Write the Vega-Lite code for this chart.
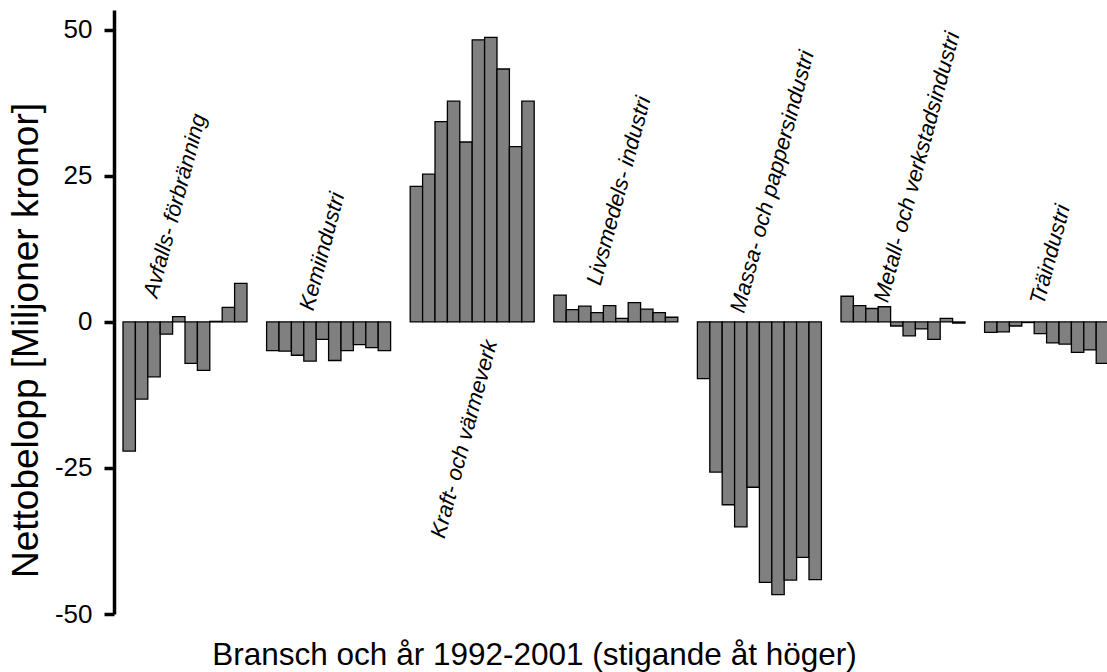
{
  "$schema": "https://vega.github.io/schema/vega-lite/v6.json",
  "width": 993,
  "height": 604,
  "autosize": {"type": "none"},
  "padding": {"left": 114, "top": 10, "right": 0, "bottom": 58},
  "background": "white",
  "config": {"view": {"stroke": null}, "font": "Liberation Sans"},
  "datasets": {
    "bars": [
      {"branch": "Avfalls- förbränning", "year": 1992, "value": -22.1},
      {"branch": "Avfalls- förbränning", "year": 1993, "value": -13.2},
      {"branch": "Avfalls- förbränning", "year": 1994, "value": -9.4},
      {"branch": "Avfalls- förbränning", "year": 1995, "value": -2.1},
      {"branch": "Avfalls- förbränning", "year": 1996, "value": 0.9},
      {"branch": "Avfalls- förbränning", "year": 1997, "value": -7.1},
      {"branch": "Avfalls- förbränning", "year": 1998, "value": -8.3},
      {"branch": "Avfalls- förbränning", "year": 1999, "value": 0.1},
      {"branch": "Avfalls- förbränning", "year": 2000, "value": 2.5},
      {"branch": "Avfalls- förbränning", "year": 2001, "value": 6.6},
      {"branch": "Kemiindustri", "year": 1992, "value": -4.9},
      {"branch": "Kemiindustri", "year": 1993, "value": -5.0},
      {"branch": "Kemiindustri", "year": 1994, "value": -5.7},
      {"branch": "Kemiindustri", "year": 1995, "value": -6.7},
      {"branch": "Kemiindustri", "year": 1996, "value": -3.0},
      {"branch": "Kemiindustri", "year": 1997, "value": -6.6},
      {"branch": "Kemiindustri", "year": 1998, "value": -4.9},
      {"branch": "Kemiindustri", "year": 1999, "value": -3.9},
      {"branch": "Kemiindustri", "year": 2000, "value": -4.4},
      {"branch": "Kemiindustri", "year": 2001, "value": -4.9},
      {"branch": "Kraft- och värmeverk", "year": 1992, "value": 23.2},
      {"branch": "Kraft- och värmeverk", "year": 1993, "value": 25.3},
      {"branch": "Kraft- och värmeverk", "year": 1994, "value": 34.3},
      {"branch": "Kraft- och värmeverk", "year": 1995, "value": 37.8},
      {"branch": "Kraft- och värmeverk", "year": 1996, "value": 30.8},
      {"branch": "Kraft- och värmeverk", "year": 1997, "value": 48.3},
      {"branch": "Kraft- och värmeverk", "year": 1998, "value": 48.7},
      {"branch": "Kraft- och värmeverk", "year": 1999, "value": 43.3},
      {"branch": "Kraft- och värmeverk", "year": 2000, "value": 30.0},
      {"branch": "Kraft- och värmeverk", "year": 2001, "value": 37.8},
      {"branch": "Livsmedels- industri", "year": 1992, "value": 4.6},
      {"branch": "Livsmedels- industri", "year": 1993, "value": 2.1},
      {"branch": "Livsmedels- industri", "year": 1994, "value": 2.7},
      {"branch": "Livsmedels- industri", "year": 1995, "value": 1.6},
      {"branch": "Livsmedels- industri", "year": 1996, "value": 2.8},
      {"branch": "Livsmedels- industri", "year": 1997, "value": 0.6},
      {"branch": "Livsmedels- industri", "year": 1998, "value": 3.3},
      {"branch": "Livsmedels- industri", "year": 1999, "value": 2.2},
      {"branch": "Livsmedels- industri", "year": 2000, "value": 1.6},
      {"branch": "Livsmedels- industri", "year": 2001, "value": 0.8},
      {"branch": "Massa- och pappersindustri", "year": 1992, "value": -9.7},
      {"branch": "Massa- och pappersindustri", "year": 1993, "value": -25.7},
      {"branch": "Massa- och pappersindustri", "year": 1994, "value": -31.3},
      {"branch": "Massa- och pappersindustri", "year": 1995, "value": -35.1},
      {"branch": "Massa- och pappersindustri", "year": 1996, "value": -28.3},
      {"branch": "Massa- och pappersindustri", "year": 1997, "value": -44.6},
      {"branch": "Massa- och pappersindustri", "year": 1998, "value": -46.7},
      {"branch": "Massa- och pappersindustri", "year": 1999, "value": -44.2},
      {"branch": "Massa- och pappersindustri", "year": 2000, "value": -40.3},
      {"branch": "Massa- och pappersindustri", "year": 2001, "value": -44.1},
      {"branch": "Metall- och verkstadsindustri", "year": 1992, "value": 4.4},
      {"branch": "Metall- och verkstadsindustri", "year": 1993, "value": 2.8},
      {"branch": "Metall- och verkstadsindustri", "year": 1994, "value": 2.3},
      {"branch": "Metall- och verkstadsindustri", "year": 1995, "value": 2.6},
      {"branch": "Metall- och verkstadsindustri", "year": 1996, "value": -0.7},
      {"branch": "Metall- och verkstadsindustri", "year": 1997, "value": -2.4},
      {"branch": "Metall- och verkstadsindustri", "year": 1998, "value": -1.2},
      {"branch": "Metall- och verkstadsindustri", "year": 1999, "value": -3.0},
      {"branch": "Metall- och verkstadsindustri", "year": 2000, "value": 0.6},
      {"branch": "Metall- och verkstadsindustri", "year": 2001, "value": -0.2},
      {"branch": "Träindustri", "year": 1992, "value": -1.8},
      {"branch": "Träindustri", "year": 1993, "value": -1.7},
      {"branch": "Träindustri", "year": 1994, "value": -0.7},
      {"branch": "Träindustri", "year": 1995, "value": -0.1},
      {"branch": "Träindustri", "year": 1996, "value": -2.0},
      {"branch": "Träindustri", "year": 1997, "value": -3.6},
      {"branch": "Träindustri", "year": 1998, "value": -3.8},
      {"branch": "Träindustri", "year": 1999, "value": -5.2},
      {"branch": "Träindustri", "year": 2000, "value": -4.8},
      {"branch": "Träindustri", "year": 2001, "value": -7.1}
    ],
    "labels": [
      {"branch": "Avfalls- förbränning", "year": 1993, "value": 5.2, "label": "Avfalls- förbränning"},
      {"branch": "Kemiindustri", "year": 1994, "value": 3.0, "label": "Kemiindustri"},
      {"branch": "Kraft- och värmeverk", "year": 1993, "value": -36.0, "label": "Kraft- och värmeverk"},
      {"branch": "Livsmedels- industri", "year": 1994, "value": 7.3, "label": "Livsmedels- industri"},
      {"branch": "Massa- och pappersindustri", "year": 1994, "value": 2.6, "label": "Massa- och pappersindustri"},
      {"branch": "Metall- och verkstadsindustri", "year": 1994, "value": 4.4, "label": "Metall- och verkstadsindustri"},
      {"branch": "Träindustri", "year": 1995, "value": 4.0, "label": "Träindustri"}
    ]
  },
  "encoding": {
    "x": {
      "field": "branch",
      "type": "nominal",
      "scale": {
        "domain": ["Avfalls- förbränning", "Kemiindustri", "Kraft- och värmeverk", "Livsmedels- industri", "Massa- och pappersindustri", "Metall- och verkstadsindustri", "Träindustri"],
        "range": [9, 994.6],
        "paddingInner": 0.1365,
        "paddingOuter": 0
      },
      "axis": {
        "domain": false,
        "ticks": false,
        "labels": false,
        "grid": false,
        "title": "Bransch och år 1992-2001 (stigande åt höger)",
        "titleFont": "Liberation Sans",
        "titleFontSize": 31.5,
        "titleFontWeight": "normal",
        "titleColor": "black",
        "titleX": 420,
        "titleY": 50,
        "titleAlign": "center",
        "titleBaseline": "alphabetic"
      }
    },
    "xOffset": {
      "field": "year",
      "type": "ordinal",
      "scale": {"paddingInner": 0, "paddingOuter": 0}
    },
    "y": {
      "field": "value",
      "type": "quantitative",
      "scale": {"domain": [-50, 53.4], "nice": false, "zero": false},
      "axis": {
        "values": [-50, -25, 0, 25, 50],
        "labelExpr": "'' + datum.value",
        "grid": false,
        "domainColor": "black",
        "domainWidth": 3.5,
        "tickColor": "black",
        "tickWidth": 3.5,
        "tickSize": 10,
        "labelFont": "Liberation Sans",
        "labelFontSize": 26,
        "labelColor": "black",
        "labelPadding": 12,
        "title": "Nettobelopp [Miljoner kronor]",
        "titleFont": "Liberation Sans",
        "titleFontSize": 37,
        "titleFontWeight": "normal",
        "titleColor": "black",
        "titleAngle": -90,
        "titleAlign": "center",
        "titleBaseline": "alphabetic",
        "titleX": -77,
        "titleY": 330
      }
    }
  },
  "layer": [
    {
      "data": {"name": "bars"},
      "mark": {"type": "bar", "fill": "#808080", "stroke": "black", "strokeWidth": 1.3, "clip": true}
    },
    {
      "data": {"name": "labels"},
      "mark": {"type": "text", "angle": -75, "align": "left", "baseline": "top", "dx": -3, "font": "Liberation Sans", "fontStyle": "italic", "fontSize": 22, "color": "black"},
      "encoding": {"text": {"field": "label"}}
    }
  ]
}
